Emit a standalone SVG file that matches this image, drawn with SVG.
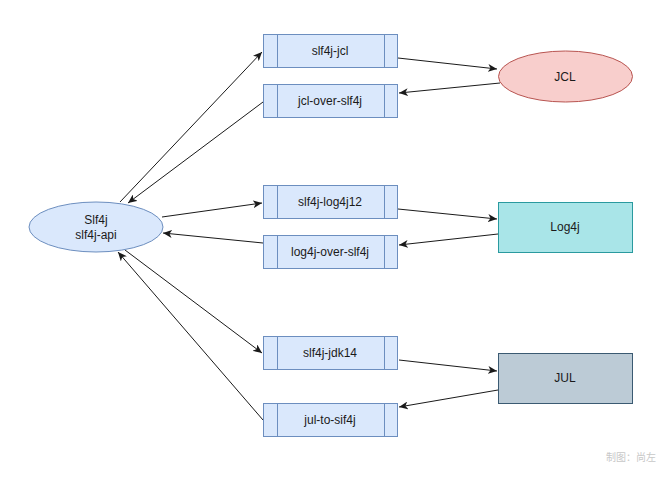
<svg xmlns="http://www.w3.org/2000/svg" width="663" height="477" viewBox="0 0 663 477">
<defs>
<style>
.box{fill:#dae8fc;stroke:#6c8ebf;stroke-width:1}
.bar{fill:none;stroke:#6c8ebf;stroke-width:1}
.t{font-family:"Liberation Sans",Arial,sans-serif;font-size:12px;fill:#1a1a1a;text-anchor:middle;dominant-baseline:central}
.e{fill:none;stroke:#1a1a1a;stroke-width:1;marker-end:url(#arr)}
.wm{font-family:"Noto Sans CJK SC",sans-serif;font-size:10px;fill:#c8c8c8}
</style>
<marker id="arr" markerUnits="userSpaceOnUse" markerWidth="10" markerHeight="8" refX="9" refY="4" orient="auto">
<path d="M0,0 L9,4 L0,8 L2.5,4 Z" fill="#1a1a1a"/>
</marker>
</defs>
<rect width="663" height="477" fill="#ffffff"/>
<g id="connectors">
<path class="e" d="M120,202 L262,52"/>
<path class="e" d="M263,102 L128,203"/>
<path class="e" d="M398,58 L497,69"/>
<path class="e" d="M500,83 L399,93"/>
<path class="e" d="M162,217 L262,203"/>
<path class="e" d="M263,243 L163,233"/>
<path class="e" d="M398,209 L497,219"/>
<path class="e" d="M498,234 L399,245"/>
<path class="e" d="M399,360 L497,371"/>
<path class="e" d="M498,390 L399,407"/>
<path class="e" d="M125,250 L262,353"/>
<path class="e" d="M263,420 L118,252"/>
</g>
<g id="slf4j">
<ellipse cx="96" cy="227" rx="67" ry="25" fill="#dae8fc" stroke="#6c8ebf"/>
<text class="t" x="96" y="220">Slf4j</text>
<text class="t" x="96" y="235">slf4j-api</text>
</g>
<g id="slf4j-jcl">
<rect class="box" x="263.5" y="34.5" width="134" height="33"/>
<path class="bar" d="M277.5,34.5 V67.5 M384.5,34.5 V67.5"/>
<text class="t" x="330" y="51">slf4j-jcl</text>
</g>
<g id="jcl-over-slf4j">
<rect class="box" x="263.5" y="84.5" width="134" height="33"/>
<path class="bar" d="M277.5,84.5 V117.5 M384.5,84.5 V117.5"/>
<text class="t" x="330" y="101">jcl-over-slf4j</text>
</g>
<g id="slf4j-log4j12">
<rect class="box" x="263.5" y="185.5" width="134" height="33"/>
<path class="bar" d="M277.5,185.5 V218.5 M384.5,185.5 V218.5"/>
<text class="t" x="330" y="202">slf4j-log4j12</text>
</g>
<g id="log4j-over-slf4j">
<rect class="box" x="263.5" y="235.5" width="134" height="33"/>
<path class="bar" d="M277.5,235.5 V268.5 M384.5,235.5 V268.5"/>
<text class="t" x="330" y="252">log4j-over-slf4j</text>
</g>
<g id="slf4j-jdk14">
<rect class="box" x="263.5" y="336.5" width="134" height="33"/>
<path class="bar" d="M277.5,336.5 V369.5 M384.5,336.5 V369.5"/>
<text class="t" x="330" y="353">slf4j-jdk14</text>
</g>
<g id="jul-to-sif4j">
<rect class="box" x="263.5" y="403.5" width="134" height="33"/>
<path class="bar" d="M277.5,403.5 V436.5 M384.5,403.5 V436.5"/>
<text class="t" x="330" y="420">jul-to-sif4j</text>
</g>
<g id="jcl">
<ellipse cx="565.5" cy="76.5" rx="67" ry="25.5" fill="#f8cecc" stroke="#b85450"/>
<text class="t" x="565" y="77">JCL</text>
</g>
<g id="log4j">
<rect x="498.5" y="202.5" width="134" height="50" fill="#a9e5e8" stroke="#2a9a9f"/>
<text class="t" x="565" y="227">Log4j</text>
</g>
<g id="jul">
<rect x="498.5" y="353.5" width="134" height="50" fill="#bccbd6" stroke="#3b5a72"/>
<text class="t" x="565" y="378">JUL</text>
</g>
<text class="wm" x="606" y="461">制图：尚左</text>
</svg>
